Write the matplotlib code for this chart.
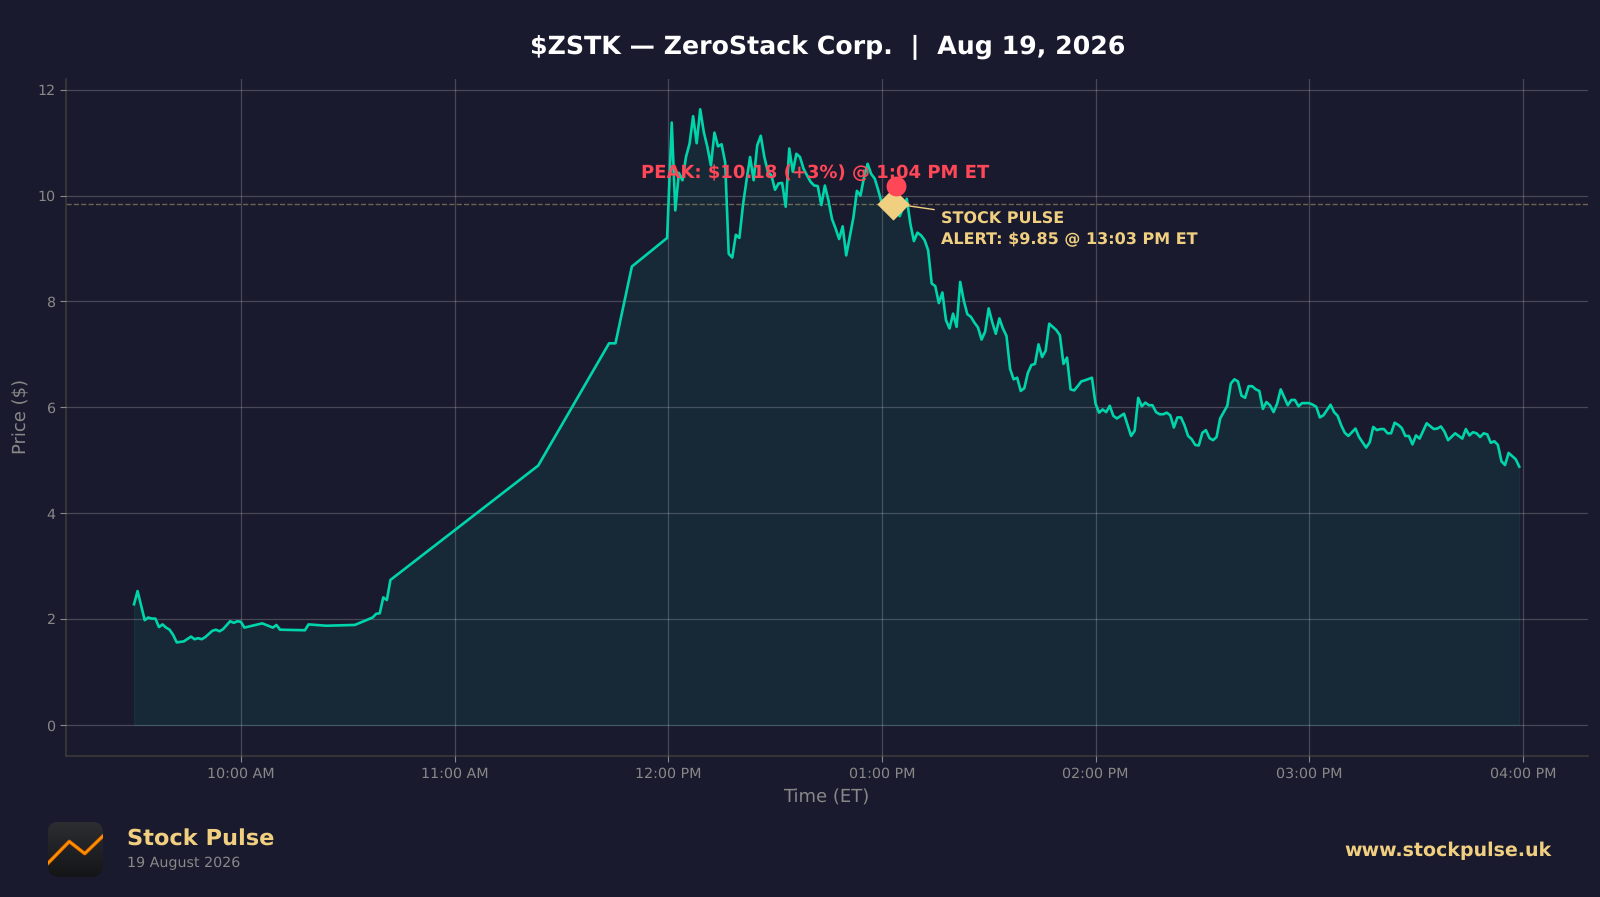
import matplotlib
matplotlib.use("Agg")
import matplotlib.pyplot as plt
import numpy as np
from matplotlib.patches import FancyBboxPatch

plt.rcParams["text.hinting"] = "no_hinting"

# Minutes after 10:00 AM ET and the price at each sampled point
minutes = [-30,-29,-27,-26,-25,-24,-23,-22,-21,-20,-19,-18,-17,-16,-14,-13,-12,-11,-10,-8,-7,-6,-5,-3,-2,-1,0,1,
           6,9,10,11,18,19,24,32,37,38,39,40,41,42,83.5,103.4,105.2,109.8,119.7,
           121,122,123,124,125,126,127,128,129,130,131,132,133,134,135,136,137,138,139,140,141,142,143,144,145,146,
           147,148,149,150,151,152,153,154,155,156,157,158,159,160,161,162,163,164,165,166,167,168,169,170,171,172,
           173,174,175,176,177,178,179,180,181,183,185,187,188,189,190,191,192,193,194,195,196,197,198,199,200,201,
           202,203,204,205,206,207,208,209,210,211,212,213,214,215,216,217,218,219,220,221,222,223,224,225,226,227,
           228,229,230,231,232,233,234,235,236,237,239,240,241,242,243,244,245,246,248,250,251,252,253,254,255,256,
           257,258,259,260,261,262,263,264,265,266,267,268,269,270,271,272,273,274,275,276,277,278,279,280,281,282,
           283,284,285,286,287,288,289,290,291,292,294,295,296,297,298,300,301,302,303,304,306,307,308,309,310,311,
           313,314,316,317,318,319,320,321,322,323,324,325,326,327,328,329,330,331,333,335,336,337,338,339,341,343,
           344,345,346,347,348,349,350,351,352,353,354,355,356,358,359]
prices = [2.28,2.53,1.98,2.03,2.01,2.01,1.85,1.90,1.84,1.80,1.70,1.56,1.57,1.58,1.67,1.62,1.64,1.62,1.66,1.78,1.80,1.77,1.81,1.96,1.93,1.96,1.95,1.84,
          1.92,1.84,1.89,1.80,1.79,1.90,1.875,1.89,2.03,2.10,2.11,2.41,2.36,2.74,4.90,7.21,7.21,8.66,9.20,
          11.38,9.72,10.43,10.29,10.73,10.98,11.50,10.99,11.63,11.20,10.92,10.57,11.19,10.93,10.97,10.63,8.90,8.83,9.26,9.20,9.82,10.29,10.73,10.29,10.95,11.13,
          10.73,10.45,10.38,10.11,10.23,10.24,9.79,10.89,10.45,10.79,10.73,10.51,10.38,10.26,10.19,10.18,9.82,10.19,9.91,9.56,9.38,9.18,9.42,8.87,9.22,9.58,
          10.09,10.00,10.35,10.60,10.41,10.32,10.10,9.85,9.80,9.90,9.61,9.94,9.47,9.14,9.30,9.25,9.16,8.97,8.34,8.29,7.97,8.17,7.65,7.49,7.77,7.52,
          8.37,8.02,7.76,7.71,7.60,7.51,7.28,7.43,7.87,7.61,7.39,7.68,7.49,7.35,6.73,6.53,6.56,6.31,6.36,6.65,6.80,6.82,7.19,6.95,7.07,7.58,
          7.52,7.46,7.36,6.82,6.94,6.34,6.32,6.40,6.49,6.51,6.56,6.07,5.90,5.96,5.91,6.03,5.84,5.79,5.88,5.46,5.56,6.18,6.02,6.09,6.04,6.04,
          5.91,5.87,5.87,5.90,5.85,5.62,5.81,5.81,5.66,5.46,5.40,5.29,5.28,5.52,5.57,5.42,5.38,5.44,5.79,5.91,6.03,6.45,6.53,6.49,6.22,6.18,
          6.40,6.40,6.34,6.31,5.97,6.10,6.04,5.91,6.07,6.34,6.04,6.14,6.14,6.02,6.08,6.08,6.05,6.01,5.81,5.85,6.05,5.91,5.84,5.66,5.52,5.46,
          5.60,5.44,5.24,5.34,5.63,5.57,5.59,5.59,5.51,5.51,5.71,5.67,5.61,5.46,5.46,5.30,5.47,5.41,5.70,5.59,5.60,5.64,5.54,5.38,5.51,5.41,
          5.59,5.47,5.53,5.51,5.44,5.51,5.49,5.33,5.36,5.29,4.98,4.91,5.14,5.02,4.88]

tick_minutes = [0, 60, 120, 180, 240, 300, 360]
tick_labels = ["10:00 AM", "11:00 AM", "12:00 PM", "01:00 PM", "02:00 PM", "03:00 PM", "04:00 PM"]
y_ticks = [0, 2, 4, 6, 8, 10, 12]

peak_minute, peak_price = 184, 10.18
alert_minute, alert_price = 183, 9.85

logo_x = [0.0, 0.39, 0.67, 1.0]
logo_y = [0.24, 0.64, 0.42, 0.74]

BG = "#1a1a2e"
TEAL = "#00d4aa"
GOLD = "#f0d080"
RED = "#ff4757"
GREY = "#888888"
W, H = 1600, 897

fig = plt.figure(figsize=(W / 100, H / 100), dpi=100, facecolor=BG)
ax = fig.add_axes([66 / W, 1 - 755.7 / H, (1588 - 66) / W, (755.7 - 78.6) / H], facecolor=BG)

ax.fill_between(minutes, prices, 0, color=TEAL, alpha=0.08, zorder=1)
ax.plot(minutes, prices, color=TEAL, lw=1.9, zorder=3)
ax.axhline(alert_price, color=GOLD, lw=1, ls="--", alpha=0.4, zorder=2)
ax.grid(True, color="white", alpha=0.2, lw=0.9, zorder=2)
ax.set_axisbelow(False)
for line in ax.get_xgridlines() + ax.get_ygridlines():
    line.set_zorder(2)

ax.scatter([peak_minute], [peak_price], s=205, color=RED, zorder=6, linewidths=0)
ax.scatter([alert_minute], [alert_price], s=270, marker="D", color=GOLD, zorder=5, linewidths=0)

ax.annotate(f"PEAK: ${peak_price:.2f} (+3%) @ 1:04 PM ET", xy=(peak_minute, peak_price),
            xytext=(-58.5, 9.5), textcoords="offset points", ha="center", va="center",
            color=RED, fontsize=13, fontweight="bold", zorder=7)
ax.annotate(f"STOCK PULSE\nALERT: ${alert_price:.2f} @ 13:03 PM ET", xy=(alert_minute, alert_price),
            xytext=(35, -18.5), textcoords="offset points", ha="left", va="center",
            color=GOLD, fontsize=11.5, fontweight="bold", linespacing=1.28, zorder=7,
            arrowprops=dict(arrowstyle="-", color=GOLD, lw=1, shrinkA=3, shrinkB=0))

ax.set_xlim(-49.1, 378.3)
ax.set_ylim(-0.58, 12.21)
ax.set_xticks(tick_minutes)
ax.set_xticklabels(tick_labels)
ax.set_yticks(y_ticks)
ax.tick_params(colors=GREY, labelsize=10.3, length=4, width=0.8)
ax.tick_params(axis="x", pad=4.6)
for s in ("top", "right"):
    ax.spines[s].set_visible(False)
for s in ("left", "bottom"):
    ax.spines[s].set_color("#3a3a3a")
    ax.spines[s].set_linewidth(1.2)

fig.text(826 / W, 1 - 797.5 / H, "Time (ET)", color=GREY, fontsize=13, ha="center", va="center")
fig.text(21.5 / W, 1 - 416 / H, "Price ($)", color=GREY, fontsize=13, ha="center", va="center", rotation=90)
fig.text(828 / W, 1 - 47 / H, "$ZSTK — ZeroStack Corp.  |  Aug 19, 2026", color="white",
         fontsize=18.2, fontweight="bold", ha="center", va="center")

# Footer
fig.text(127 / W, 1 - 840 / H, "Stock Pulse", color=GOLD, fontsize=16.2, fontweight="bold", ha="left", va="center")
fig.text(127 / W, 1 - 863 / H, "19 August 2026", color=GREY, fontsize=10.3, ha="left", va="center")
fig.text(1552 / W, 1 - 851 / H, "www.stockpulse.uk", color=GOLD, fontsize=13.7, fontweight="bold", ha="right", va="center")

# Logo
lax = fig.add_axes([47.7 / W, 1 - 876.7 / H, 55.3 / W, 55 / H], facecolor="none")
lax.set_xlim(0, 1)
lax.set_ylim(0, 1)
lax.axis("off")
grad = np.linspace(0, 1, 64)[:, None]
im = lax.imshow(grad, extent=(0, 1, 0, 1), aspect="auto", origin="lower",
                cmap=matplotlib.colors.LinearSegmentedColormap.from_list("g", ["#141517", "#2c2e32"]), zorder=1)
clip = FancyBboxPatch((0.0, 0.0), 1.0, 1.0, boxstyle="round,pad=0,rounding_size=0.2",
                      transform=lax.transData, facecolor="none", edgecolor="none")
lax.add_patch(clip)
im.set_clip_path(clip)
l1, = lax.plot(logo_x, logo_y, color="#e86a00", lw=2.6, zorder=2, solid_joinstyle="round")
l2, = lax.plot(logo_x, logo_y, color="#ff9a00", lw=1.1, zorder=3, solid_joinstyle="round")
l1.set_clip_path(clip)
l2.set_clip_path(clip)

fig.savefig("out.png", dpi=100, facecolor=BG)
